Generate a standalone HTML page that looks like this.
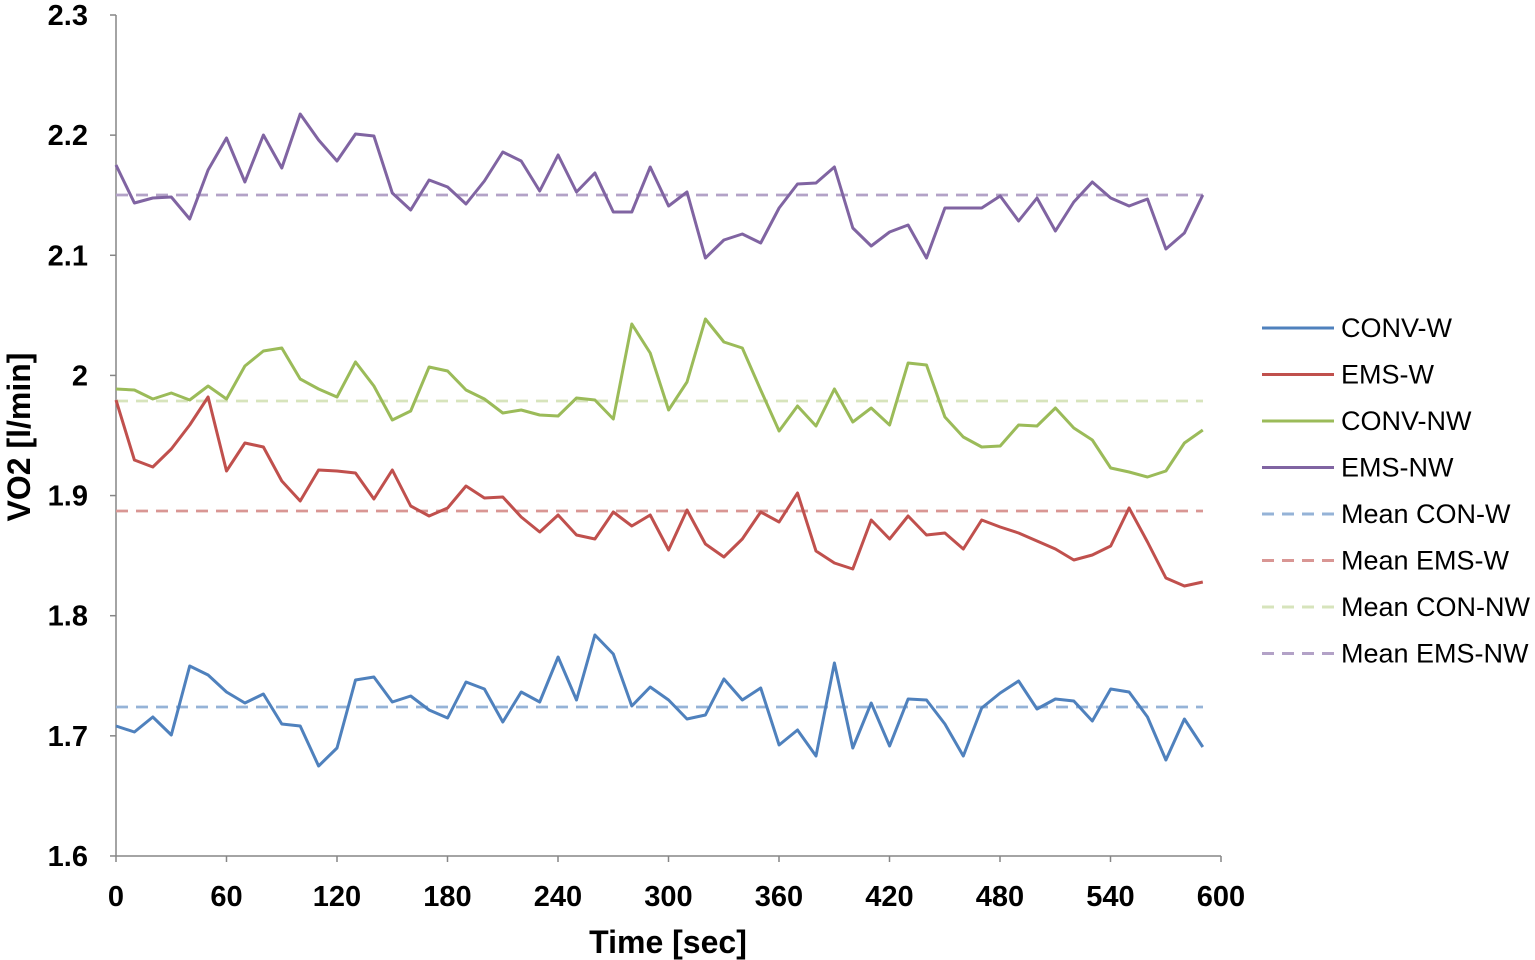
<!DOCTYPE html>
<html><head><meta charset="utf-8"><style>
html,body{margin:0;padding:0;background:#fff;width:1535px;height:960px;overflow:hidden}
svg{display:block;font-family:"Liberation Sans",Arial,sans-serif}
</style></head><body>
<svg id="s" width="1535" height="960" xmlns="http://www.w3.org/2000/svg">
<g stroke="#868686" stroke-width="1.5" fill="none">
<line x1="116" y1="15" x2="116" y2="856"/>
<line x1="116" y1="856" x2="1221" y2="856"/>
</g>
<g id="ticks" stroke="#868686" stroke-width="1.5"></g>
<g id="labels" font-size="29" font-weight="bold" fill="#000"></g>
<text x="668" y="953" font-size="32" font-weight="bold" text-anchor="middle">Time [sec]</text>
<text transform="translate(30,437) rotate(-90)" font-size="32" font-weight="bold" text-anchor="middle">VO2 [l/min]</text>
<g id="series" fill="none" stroke-width="3" stroke-linejoin="round"></g>
<g id="legend" font-size="27" fill="#000"></g>
</svg>
<script>
var NS="http://www.w3.org/2000/svg";
function el(p,t,a,txt){var e=document.createElementNS(NS,t);for(var k in a)e.setAttribute(k,a[k]);if(txt)e.textContent=txt;document.getElementById(p).appendChild(e);}
var yl=["2.3","2.2","2.1","2","1.9","1.8","1.7","1.6"];
for(var i=0;i<8;i++){var y=15+i*120.14;el("ticks","line",{x1:110,x2:116,y1:y,y2:y});el("labels","text",{x:88,y:y+10,"text-anchor":"end"},yl[i]);}
for(var i=0;i<=10;i++){var x=116+i*110.5;el("ticks","line",{x1:x,x2:x,y1:856,y2:862});el("labels","text",{x:x,y:906,"text-anchor":"middle"},String(i*60));}
var P=[165,203,198,197,219,170,138,182,135,168,114,140,161,134,136,193,210,180,187,204,181,152,161,191,155,192,173,212,212,167,206,192,258,240,234,243,208,184,183,167,228,246,232,225,258,208,208,208,196,221,198,231,202,182,198,206,199,249,233,195];
var G=[389,390,399,393,400,386,399,366,351,348,379,389,397,362,386,420,411,367,371,390,399,413,410,415,416,398,400,419,324,353,410,382,319,342,348,390,431,406,426,389,422,408,425,363,365,417,437,447,446,425,426,408,428,440,468,472,477,471,443,430];
var R=[400,460,467,449,425,397,471,443,447,481,501,470,471,473,499,470,506,516,508,486,498,497,517,532,515,535,539,512,526,515,550,510,544,557,539,512,522,493,551,563,569,520,539,516,535,533,549,520,527,533,541,549,560,555,546,508,542,578,586,582];
var B=[726,732,717,735,666,675,692,703,694,724,726,766,748,680,677,702,696,710,718,682,689,722,692,702,657,700,635,654,706,687,700,719,715,679,700,688,745,730,756,663,748,703,746,699,700,724,756,708,693,681,709,699,701,721,689,692,717,760,719,747];
function pts(a){return a.map(function(v,i){return (116+i*18.42).toFixed(1)+","+v}).join(" ");}
var means=[[707,"#95B3D7"],[511,"#D99694"],[401,"#D7E4BC"],[195,"#B3A2C7"]];
means.forEach(function(m){el("series","line",{x1:116,x2:1203,y1:m[0],y2:m[0],stroke:m[1],"stroke-dasharray":"12,8","stroke-width":2.8});});
[[B,"#4F81BD"],[R,"#C0504D"],[G,"#9BBB59"],[P,"#8064A2"]].forEach(function(s){el("series","polyline",{points:pts(s[0]),stroke:s[1]});});
var L=[["CONV-W","#4F81BD",0],["EMS-W","#C0504D",0],["CONV-NW","#9BBB59",0],["EMS-NW","#8064A2",0],["Mean CON-W","#95B3D7",1],["Mean EMS-W","#D99694",1],["Mean CON-NW","#D7E4BC",1],["Mean EMS-NW","#B3A2C7",1]];
L.forEach(function(l,i){var y=328+i*46.5;var a={x1:1262,x2:1334,y1:y,y2:y,stroke:l[1],"stroke-width":3};if(l[2])a["stroke-dasharray"]="12,8";el("legend","line",a);el("legend","text",{x:1341,y:y+9},l[0]);});
</script>
</body></html>
